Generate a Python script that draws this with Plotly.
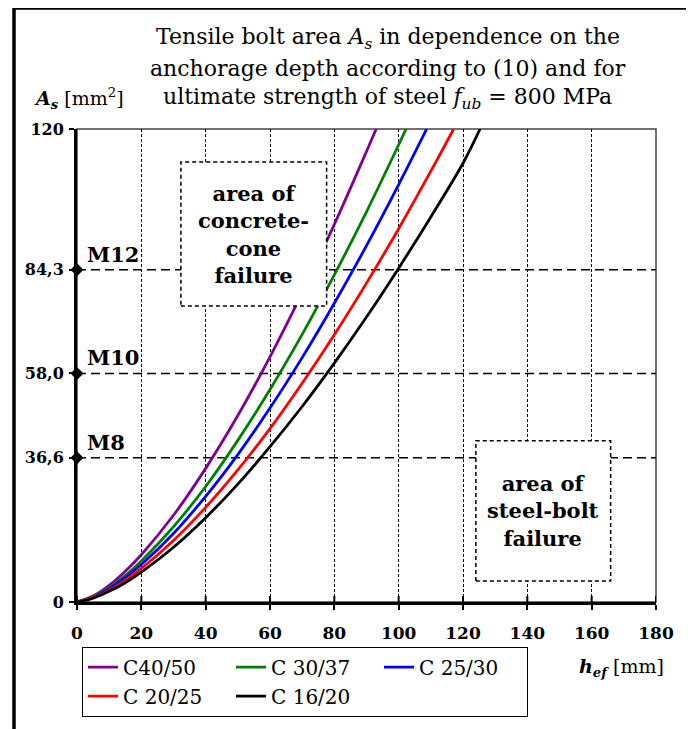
import plotly.graph_objects as go

# ---- data ----
series_names = ["C40/50", "C 30/37", "C 25/30", "C 20/25", "C 16/20"]
series_colors = ["#800090", "#008000", "#0000FF", "#FF0000", "#000000"]

hef_c4050 = [0, 5, 10, 15, 20, 30, 40, 50, 60, 70, 80, 90, 93]
as_c4050 = [0, 1.5, 4.2, 7.8, 12.0, 22.0, 33.9, 47.3, 62.2, 78.4, 95.8, 114.3, 120]

hef_c3037 = [0, 5, 10, 15, 20, 30, 40, 50, 60, 70, 80, 90, 100, 102.3]
as_c3037 = [0, 1.3, 3.7, 6.7, 10.4, 19.1, 29.3, 41.0, 53.9, 67.9, 83.0, 99.0, 116.0, 120]

hef_c2530 = [0, 5, 10, 15, 20, 30, 40, 50, 60, 70, 80, 90, 100, 108.7]
as_c2530 = [0, 1.2, 3.4, 6.2, 9.5, 17.4, 26.8, 37.4, 49.2, 62.0, 75.8, 90.4, 105.9, 120]

hef_c2025 = [0, 5, 10, 15, 20, 30, 40, 50, 60, 70, 80, 90, 100, 110, 117.1]
as_c2025 = [0, 1.1, 3.0, 5.5, 8.5, 15.6, 24.0, 33.5, 44.0, 55.5, 67.8, 80.9, 94.7, 109.3, 120]

hef_c1620 = [0, 5, 10, 15, 20, 30, 40, 50, 60, 70, 80, 90, 100, 110, 120, 125.3]
as_c1620 = [0, 0.95, 2.7, 4.9, 7.6, 13.9, 21.4, 29.9, 39.4, 49.6, 60.6, 72.3, 84.7, 97.7, 111.3, 120]

bolt_names = ["M8", "M10", "M12"]
bolt_areas = [36.6, 58.0, 84.3]

x_ticks = [0, 20, 40, 60, 80, 100, 120, 140, 160, 180]
y_ticks = [0, 36.6, 58.0, 84.3, 120]
y_ticktext = ["0", "36,6", "58,0", "84,3", "120"]

hef_lists = [hef_c4050, hef_c3037, hef_c2530, hef_c2025, hef_c1620]
as_lists = [as_c4050, as_c3037, as_c2530, as_c2025, as_c1620]

FONT = "DejaVu Serif"
OFF = 8  # page body margin
W, H = 686, 721
L, R, T, B = 69, 38, 121, 123
PW, PH = W - L - R, H - T - B


def px(xs):
    """screen x pixel -> paper fraction"""
    return (xs - OFF - L) / PW


def py(ys):
    """screen y pixel -> paper fraction"""
    return (H - B - (ys - OFF)) / PH


fig = go.Figure()

for name, col, xs, ys in zip(series_names, series_colors, hef_lists, as_lists):
    fig.add_trace(go.Scatter(
        x=xs, y=ys, mode="lines", name=name,
        line=dict(color=col, width=2.8, shape="spline", smoothing=1.0),
    ))

fig.add_trace(go.Scatter(
    x=[0] * len(bolt_areas), y=bolt_areas, mode="markers", showlegend=False,
    marker=dict(symbol="diamond", size=10, color="black"), cliponaxis=False,
))

shapes = []
shapes.append(dict(type="rect", xref="paper", yref="paper", x0=0, x1=1, y0=0, y1=1,
                   line=dict(color="#444444", width=1.5), layer="below"))
for a in bolt_areas:
    shapes.append(dict(type="line", xref="paper", yref="y", x0=0, x1=1, y0=a, y1=a,
                       line=dict(color="black", width=1.5, dash="9px,5px"), layer="below"))
for v in x_ticks:
    shapes.append(dict(type="line", xref="x", yref="y", x0=v, x1=v, ysizemode="pixel",
                       yanchor=0, y0=0, y1=6, line=dict(color="black", width=2)))
shapes.append(dict(type="rect", xref="x", yref="y", x0=32.3, x1=77.6, y0=75.1, y1=111.6,
                   fillcolor="white", line=dict(color="black", width=1.5, dash="4px,3px"),
                   layer="above"))
shapes.append(dict(type="rect", xref="x", yref="y", x0=124.0, x1=165.9, y0=5.3, y1=40.9,
                   fillcolor="white", line=dict(color="black", width=1.5, dash="4px,3px"),
                   layer="above"))
shapes.append(dict(type="rect", xref="paper", yref="paper",
                   x0=px(14), x1=px(688), y0=py(7), y1=py(760),
                   line=dict(color="black", width=3.5), fillcolor="rgba(0,0,0,0)"))

annotations = []
title_lines = [
    "Tensile bolt area <i>A<sub>s</sub></i> in dependence on the",
    "anchorage depth according to (10) and for",
    "ultimate strength of steel <i>f<sub>ub</sub></i> = 800 MPa",
]
for i, t in enumerate(title_lines):
    annotations.append(dict(text=t, xref="paper", yref="paper", x=px(388), y=py(38 + 30 * i),
                            xanchor="center", yanchor="middle", showarrow=False,
                            font=dict(family=FONT, size=22, color="black")))
annotations.append(dict(text="<b><i>A<sub>s</sub></i></b> [mm<sup>2</sup>]", xref="paper", yref="paper",
                        x=px(79), y=py(98), xanchor="center", yanchor="middle", showarrow=False,
                        font=dict(family=FONT, size=19, color="black")))
annotations.append(dict(text="<b><i>h<sub>ef</sub></i></b> [mm]", xref="paper", yref="paper",
                        x=px(621), y=py(672), xanchor="center", yanchor="middle", showarrow=False,
                        font=dict(family=FONT, size=19, color="black")))
for n, a in zip(bolt_names, bolt_areas):
    annotations.append(dict(text="<b>" + n + "</b>", xref="x", yref="y", x=0, y=a,
                            xanchor="left", yanchor="bottom", xshift=8, yshift=1, showarrow=False,
                            font=dict(family=FONT, size=21, color="black")))
annotations.append(dict(text="<b>area of<br>concrete-<br>cone<br>failure</b>", xref="x", yref="y",
                        x=(32.3 + 77.6) / 2, y=(75.1 + 111.6) / 2, xanchor="center", yanchor="middle",
                        showarrow=False, font=dict(family=FONT, size=21, color="black")))
annotations.append(dict(text="<b>area of<br>steel-bolt<br>failure</b>", xref="x", yref="y",
                        x=(124.0 + 165.9) / 2, y=(5.3 + 40.9) / 2, xanchor="center", yanchor="middle",
                        showarrow=False, font=dict(family=FONT, size=21, color="black")))

fig.update_layout(
    width=W, height=H,
    margin=dict(l=L, r=R, t=T, b=B, pad=0),
    paper_bgcolor="white", plot_bgcolor="white",
    font=dict(family=FONT, color="black"),
    showlegend=True,
    legend=dict(orientation="h", x=px(82), xanchor="left", y=py(651), yanchor="top",
                bordercolor="black", borderwidth=1, bgcolor="white",
                font=dict(family=FONT, size=20, color="black"),
                itemwidth=30, entrywidth=103, traceorder="normal"),
    xaxis=dict(range=[0, 180], tickmode="array", tickvals=x_ticks,
               ticks="outside", ticklen=5, tickwidth=2, tickcolor="black",
               showline=True, linewidth=3, linecolor="black",
               showgrid=True, gridcolor="black", gridwidth=1, griddash="3px,2px",
               zeroline=False, ticklabelstandoff=9,
               tickfont=dict(family=FONT, size=17, color="black", weight="bold")),
    yaxis=dict(range=[0, 120], tickmode="array", tickvals=y_ticks, ticktext=y_ticktext,
               ticks="outside", ticklen=5, tickwidth=2, tickcolor="black",
               showline=True, linewidth=3, linecolor="black",
               showgrid=False, zeroline=False, ticklabelstandoff=2,
               tickfont=dict(family=FONT, size=16, color="black", weight="bold")),
    shapes=shapes,
    annotations=annotations,
)

fig.write_html("out.html")
